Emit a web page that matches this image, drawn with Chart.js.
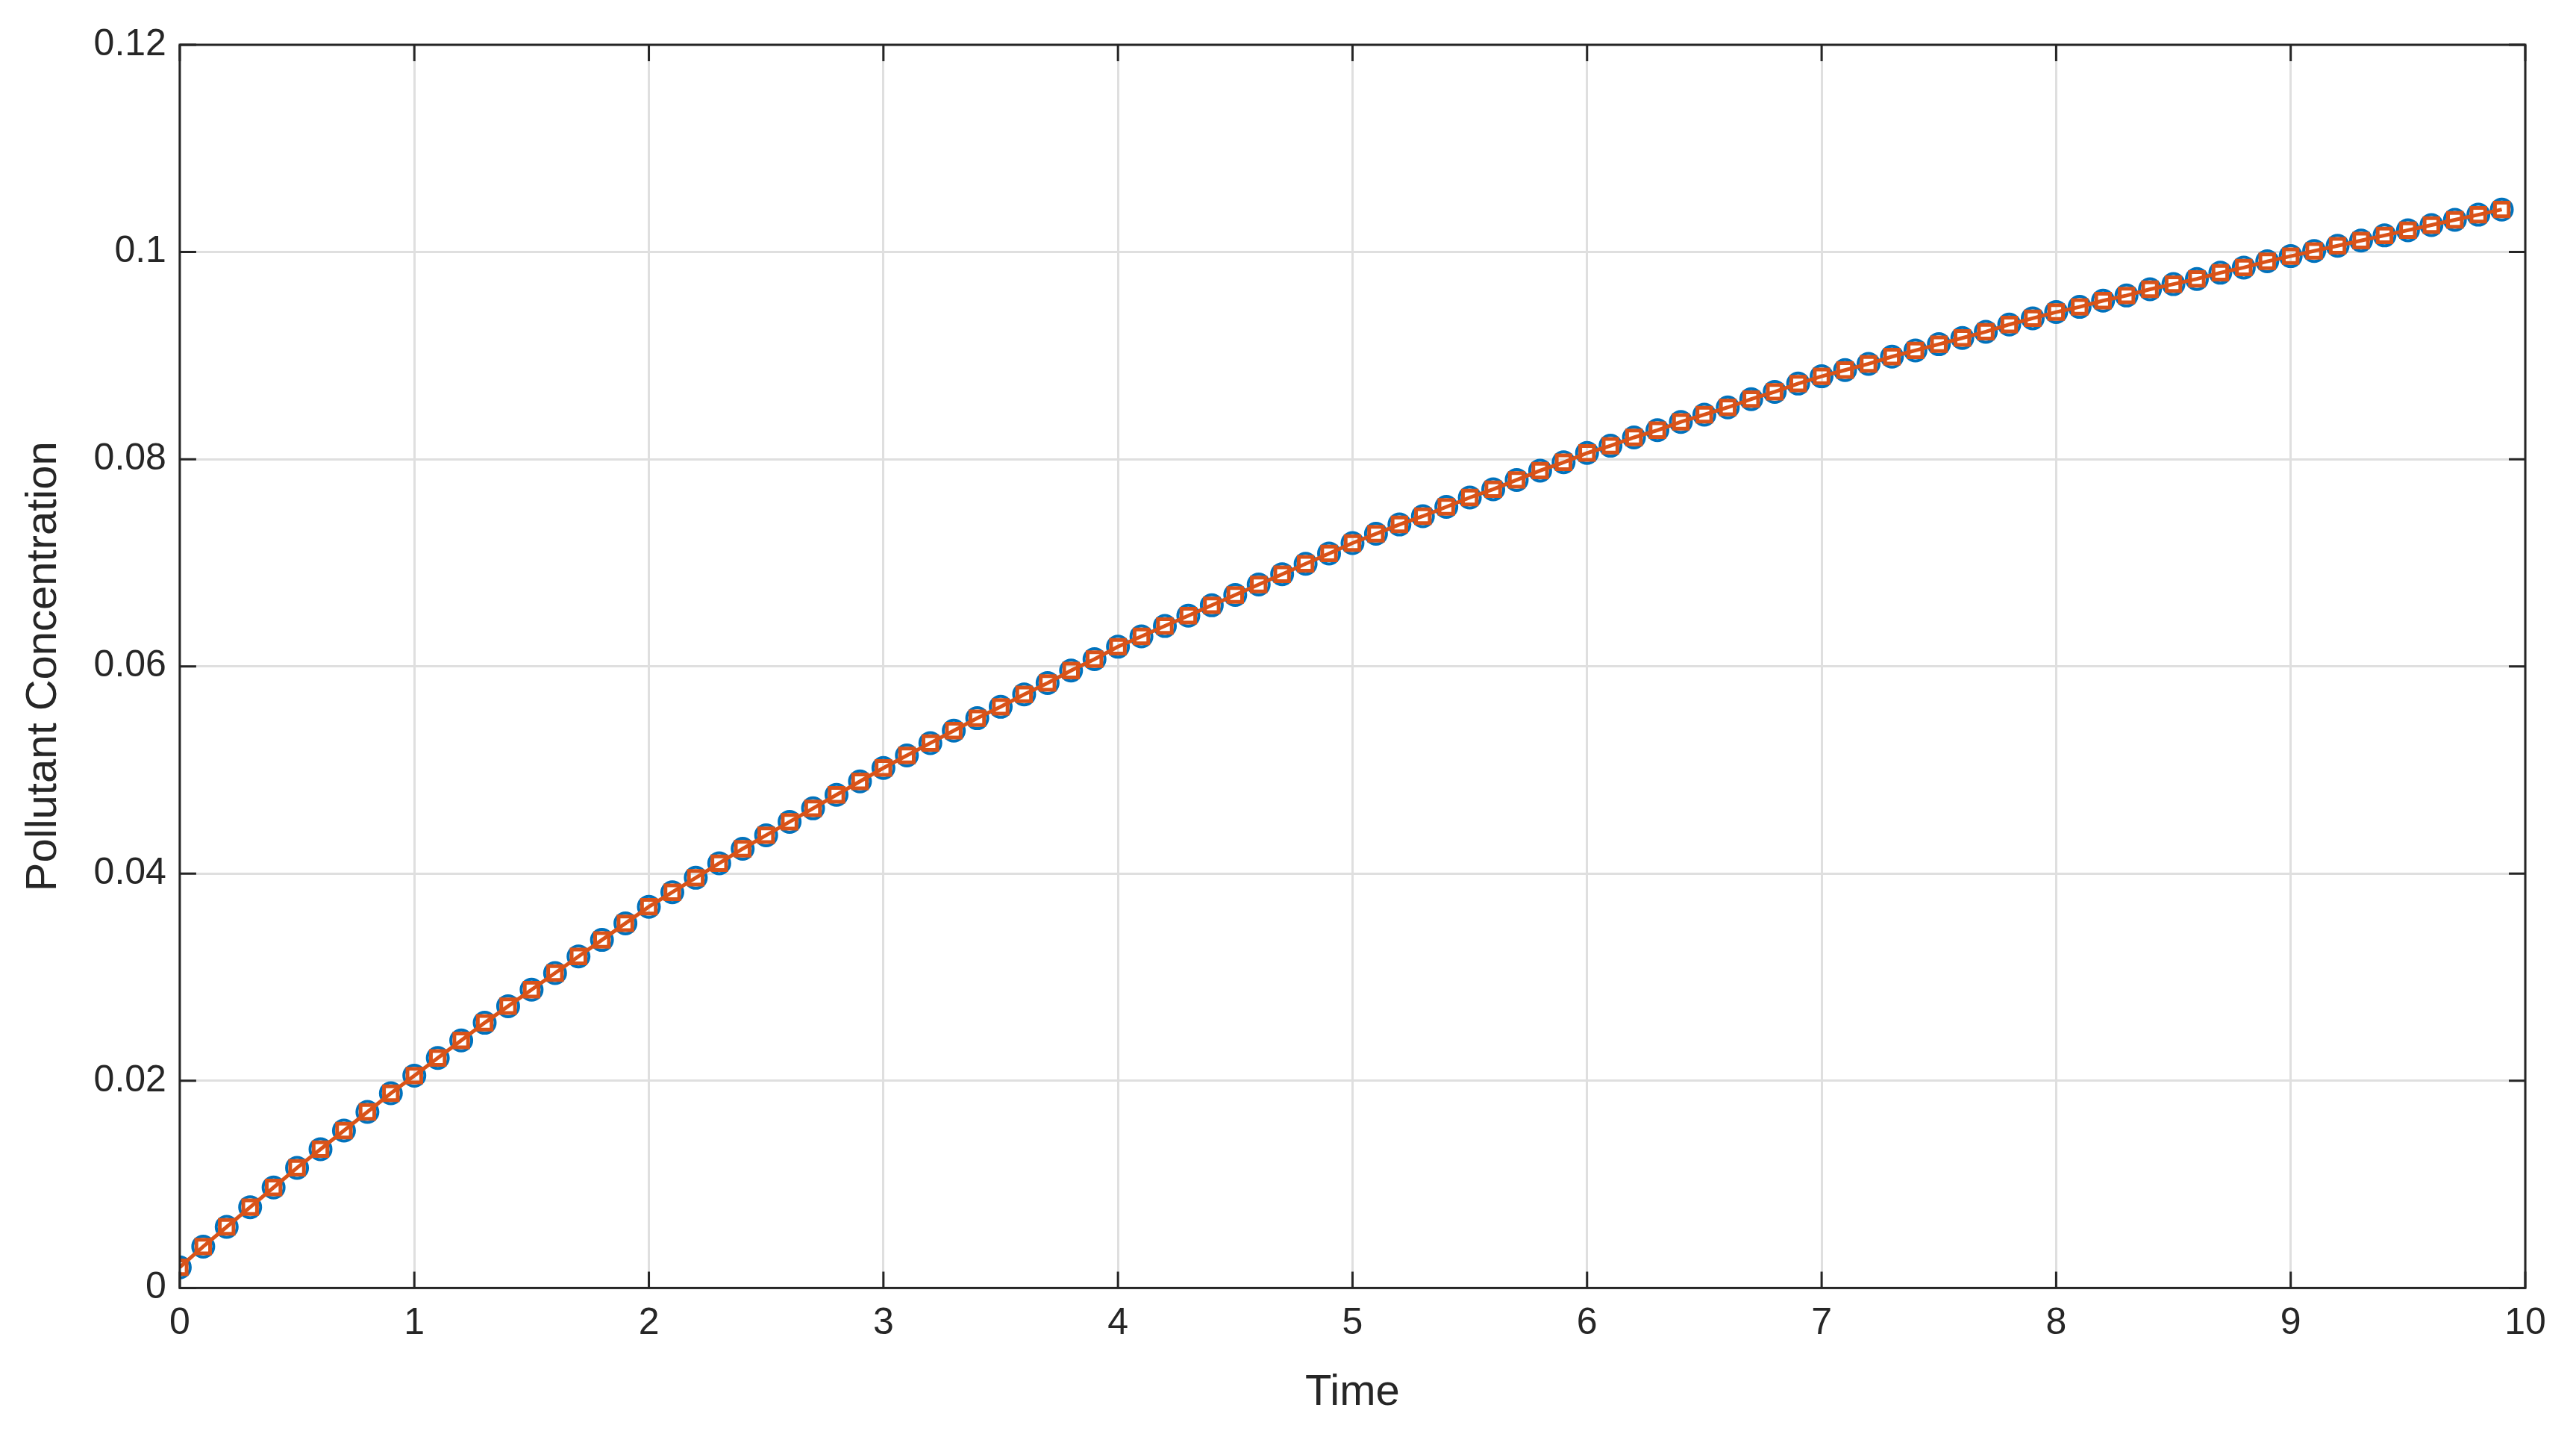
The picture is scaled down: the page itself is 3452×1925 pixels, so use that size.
<!DOCTYPE html>
<html>
<head>
<meta charset="utf-8">
<script src="https://cdn.jsdelivr.net/npm/chart.js@4"></script>
<style>
  html, body { margin: 0; padding: 0; background: #fff; }
</style>
</head>
<body>
<canvas id="chartConc" width="3452" height="1925"></canvas>
<script>
// time steps 0 .. 9.9
const times = [];
for (let i = 0; i < 100; i++) times.push(+(i * 0.1).toFixed(1));

const concentration = [
  0.0020, 0.0040, 0.0059, 0.0078, 0.0097, 0.0116, 0.0134, 0.0152, 0.0170, 0.0188,
  0.0205, 0.0222, 0.0239, 0.0256, 0.0272, 0.0288, 0.0304, 0.0320, 0.0336, 0.0352,
  0.0368, 0.0382, 0.0396, 0.0410, 0.0424, 0.0437, 0.0450, 0.0463, 0.0476, 0.0489,
  0.0502, 0.0514, 0.0526, 0.0538, 0.0550, 0.0561, 0.0573, 0.0584, 0.0596, 0.0607,
  0.0619, 0.0629, 0.0639, 0.0649, 0.0659, 0.0669, 0.0679, 0.0689, 0.0699, 0.0709,
  0.0719, 0.0728, 0.0737, 0.0745, 0.0754, 0.0763, 0.0771, 0.0780, 0.0789, 0.0797,
  0.0806, 0.0813, 0.0821, 0.0828, 0.0836, 0.0843, 0.0850, 0.0858, 0.0865, 0.0873,
  0.0880, 0.0886, 0.0892, 0.0899, 0.0905, 0.0911, 0.0917, 0.0923, 0.0930, 0.0936,
  0.0942, 0.0947, 0.0953, 0.0958, 0.0964, 0.0969, 0.0974, 0.0980, 0.0985, 0.0991,
  0.0996, 0.1001, 0.1006, 0.1011, 0.1016, 0.1021, 0.1026, 0.1031, 0.1036, 0.1041
];
const concentrationFit = concentration.slice();

const xTicks = [0, 1, 2, 3, 4, 5, 6, 7, 8, 9, 10];
const yTicks = [0, 0.02, 0.04, 0.06, 0.08, 0.1, 0.12];

const toPoints = (ys) => times.map((t, i) => ({ x: t, y: ys[i] }));

// box with inward ticks, like matlab
const boxPlugin = {
  id: "box",
  afterDatasetsDraw(chart) {
    const ctx = chart.ctx;
    const a = chart.chartArea;
    const sx = chart.scales.x, sy = chart.scales.y;
    ctx.save();
    ctx.strokeStyle = "#262626";
    ctx.lineWidth = 3;
    ctx.strokeRect(a.left, a.top, a.right - a.left, a.bottom - a.top);
    const len = 22;
    ctx.beginPath();
    xTicks.forEach(v => {
      const px = sx.getPixelForValue(v);
      ctx.moveTo(px, a.bottom); ctx.lineTo(px, a.bottom - len);
      ctx.moveTo(px, a.top); ctx.lineTo(px, a.top + len);
    });
    yTicks.forEach(v => {
      const py = sy.getPixelForValue(v);
      ctx.moveTo(a.left, py); ctx.lineTo(a.left + len, py);
      ctx.moveTo(a.right, py); ctx.lineTo(a.right - len, py);
    });
    ctx.stroke();
    ctx.restore();
  }
};

Chart.defaults.font.family = "Liberation Sans, Arial, sans-serif";
Chart.defaults.color = "#262626";

const chart = new Chart("chartConc", {
  type: "line",
  data: {
    datasets: [
      {
        label: "Fit",
        data: toPoints(concentrationFit),
        borderColor: "#D95319",
        backgroundColor: "rgba(0,0,0,0)",
        borderWidth: 5,
        pointStyle: "rect",
        pointRadius: 13,
        pointBorderWidth: 5,
        pointBorderColor: "#D95319",
        pointBackgroundColor: "rgba(0,0,0,0)",
        lineTension: 0,
        fill: false,
        order: 1,
      },
      {
        label: "Data",
        data: toPoints(concentration),
        borderColor: "#0072BD",
        showLine: false,
        pointStyle: "circle",
        pointRadius: 14,
        pointBorderWidth: 4,
        pointBorderColor: "#0072BD",
        pointBackgroundColor: "rgba(0,0,0,0)",
        fill: false,
        order: 2,
      },
    ],
  },
  options: {
    responsive: false,
    devicePixelRatio: 1,
    animation: false,
    layout: { padding: { top: 60, right: 68, left: 20, bottom: 20 } },
    plugins: { legend: { display: false }, tooltip: { enabled: false } },
    scales: {
      x: {
        type: "linear",
        min: 0, max: 10,
        afterBuildTicks: (s) => { s.ticks = xTicks.map(v => ({ value: v })); },
        grid: { color: "#dfdfdf", lineWidth: 3, tickLength: 0 },
        border: { display: false },
        ticks: { font: { size: 50 }, padding: 18, maxRotation: 0 },
        title: { display: true, text: "Time", font: { size: 58 }, padding: { top: 10 } },
      },
      y: {
        min: 0, max: 0.12,
        afterBuildTicks: (s) => { s.ticks = yTicks.map(v => ({ value: v })); },
        grid: { color: "#dfdfdf", lineWidth: 3, tickLength: 0 },
        border: { display: false },
        ticks: { font: { size: 50 }, padding: 18, callback: (v) => String(+v.toFixed(2)) },
        title: { display: true, text: "Pollutant Concentration", font: { size: 58 }, padding: { bottom: 14 } },
      },
    },
  },
  plugins: [boxPlugin],
});
</script>
</body>
</html>
